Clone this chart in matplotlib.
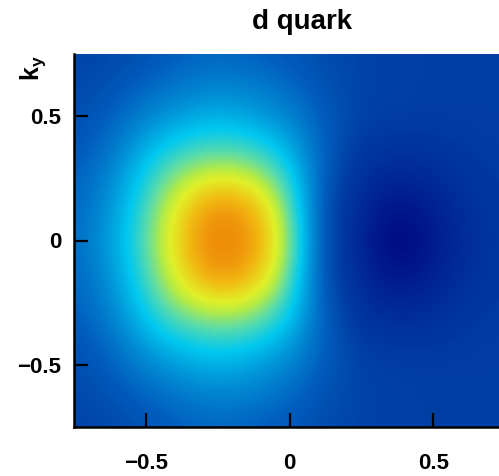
import numpy as np
import matplotlib
matplotlib.use('Agg')
import matplotlib.pyplot as plt
from matplotlib.colors import LinearSegmentedColormap

plt.rcParams['font.family'] = ['Liberation Sans', 'DejaVu Sans']
plt.rcParams['font.weight'] = 'bold'
plt.rcParams['mathtext.fontset'] = 'custom'
plt.rcParams['mathtext.rm'] = 'Liberation Sans'
plt.rcParams['mathtext.bf'] = 'Liberation Sans:bold'

# grid nodes (kx, ky)
kx = [-0.75, -0.625, -0.5, -0.375, -0.25, -0.125, 0.0, 0.125, 0.25, 0.375, 0.5, 0.625, 0.75]
ky = [0.75, 0.625, 0.5, 0.375, 0.25, 0.125, 0.0, -0.125, -0.25, -0.375, -0.5, -0.625, -0.75]

# density (relative, 0 = darkest, 1 = peak), rows from ky=0.75 down to ky=-0.75
dens = [
    [0.19, 0.20, 0.22, 0.25, 0.26, 0.25, 0.23, 0.21, 0.19, 0.19, 0.18, 0.18, 0.18],
    [0.20, 0.22, 0.26, 0.29, 0.31, 0.30, 0.27, 0.22, 0.19, 0.19, 0.18, 0.18, 0.18],
    [0.21, 0.25, 0.31, 0.35, 0.37, 0.35, 0.31, 0.24, 0.19, 0.18, 0.18, 0.18, 0.18],
    [0.23, 0.28, 0.37, 0.43, 0.46, 0.44, 0.37, 0.25, 0.16, 0.15, 0.15, 0.17, 0.18],
    [0.25, 0.31, 0.42, 0.55, 0.62, 0.58, 0.43, 0.24, 0.13, 0.10, 0.12, 0.15, 0.17],
    [0.26, 0.33, 0.45, 0.66, 0.90, 0.78, 0.47, 0.22, 0.11, 0.04, 0.09, 0.14, 0.16],
    [0.27, 0.34, 0.47, 0.70, 1.00, 0.85, 0.50, 0.22, 0.10, 0.00, 0.07, 0.13, 0.16],
    [0.26, 0.33, 0.45, 0.66, 0.90, 0.78, 0.47, 0.22, 0.11, 0.04, 0.09, 0.14, 0.16],
    [0.25, 0.31, 0.42, 0.55, 0.62, 0.58, 0.43, 0.24, 0.13, 0.10, 0.12, 0.15, 0.17],
    [0.23, 0.28, 0.37, 0.43, 0.46, 0.44, 0.37, 0.25, 0.16, 0.15, 0.15, 0.17, 0.18],
    [0.21, 0.25, 0.31, 0.35, 0.37, 0.35, 0.31, 0.24, 0.19, 0.18, 0.18, 0.18, 0.18],
    [0.20, 0.22, 0.26, 0.29, 0.31, 0.30, 0.27, 0.22, 0.19, 0.19, 0.18, 0.18, 0.18],
    [0.19, 0.20, 0.22, 0.25, 0.26, 0.25, 0.23, 0.21, 0.19, 0.19, 0.18, 0.18, 0.18],
]

ticks = [-0.5, 0, 0.5]
tick_labels = ['\u22120.5', '0', '0.5']

# colour scale as seen in the picture (navy -> blue -> cyan -> yellow -> orange)
anchors = [
    (0.00, (0, 0, 125)),
    (0.08, (0, 30, 145)),
    (0.18, (0, 62, 163)),
    (0.25, (0, 95, 190)),
    (0.32, (0, 140, 212)),
    (0.40, (0, 200, 240)),
    (0.48, (90, 220, 170)),
    (0.56, (180, 235, 70)),
    (0.62, (225, 240, 40)),
    (0.74, (240, 190, 20)),
    (0.86, (240, 150, 10)),
    (1.00, (238, 125, 5)),
]
cmap = LinearSegmentedColormap.from_list(
    'dq', [(v, tuple(c / 255 for c in rgb)) for v, rgb in anchors], N=256)

fig = plt.figure(figsize=(4.99, 4.76), dpi=100)
ax = fig.add_axes([74 / 499, 49 / 476, 431 / 499, 373 / 476])

Z = np.array(dens)
step = kx[1] - kx[0]
ax.imshow(Z, cmap=cmap, vmin=0, vmax=1, interpolation='bicubic', aspect='auto',
          extent=[kx[0] - step / 2, kx[-1] + step / 2, ky[-1] - step / 2, ky[0] + step / 2])
ax.set_xlim(-0.75, 0.75)
ax.set_ylim(-0.75, 0.75)

ax.set_xticks(ticks)
ax.set_xticklabels(tick_labels)
ax.set_yticks(ticks)
ax.set_yticklabels(tick_labels)
ax.tick_params(direction='in', length=10, width=1.6, labelsize=16, colors='black')
ax.tick_params(axis='x', pad=19)
ax.tick_params(axis='y', pad=9)
for lab in ax.get_xticklabels() + ax.get_yticklabels():
    lab.set_fontweight('bold')

ax.spines['top'].set_visible(False)
ax.spines['right'].set_visible(False)
ax.spines['left'].set_linewidth(1.8)
ax.spines['bottom'].set_linewidth(1.8)

fig.text(302 / 499, 1 - 22 / 476, 'd quark', ha='center', va='center',
         fontsize=20, fontweight='bold')
fig.text(33 / 499, 1 - 68 / 476, r'$\mathbf{k_y}$', rotation=90, ha='center', va='center',
         fontsize=18)

fig.savefig('out.png', dpi=100)
